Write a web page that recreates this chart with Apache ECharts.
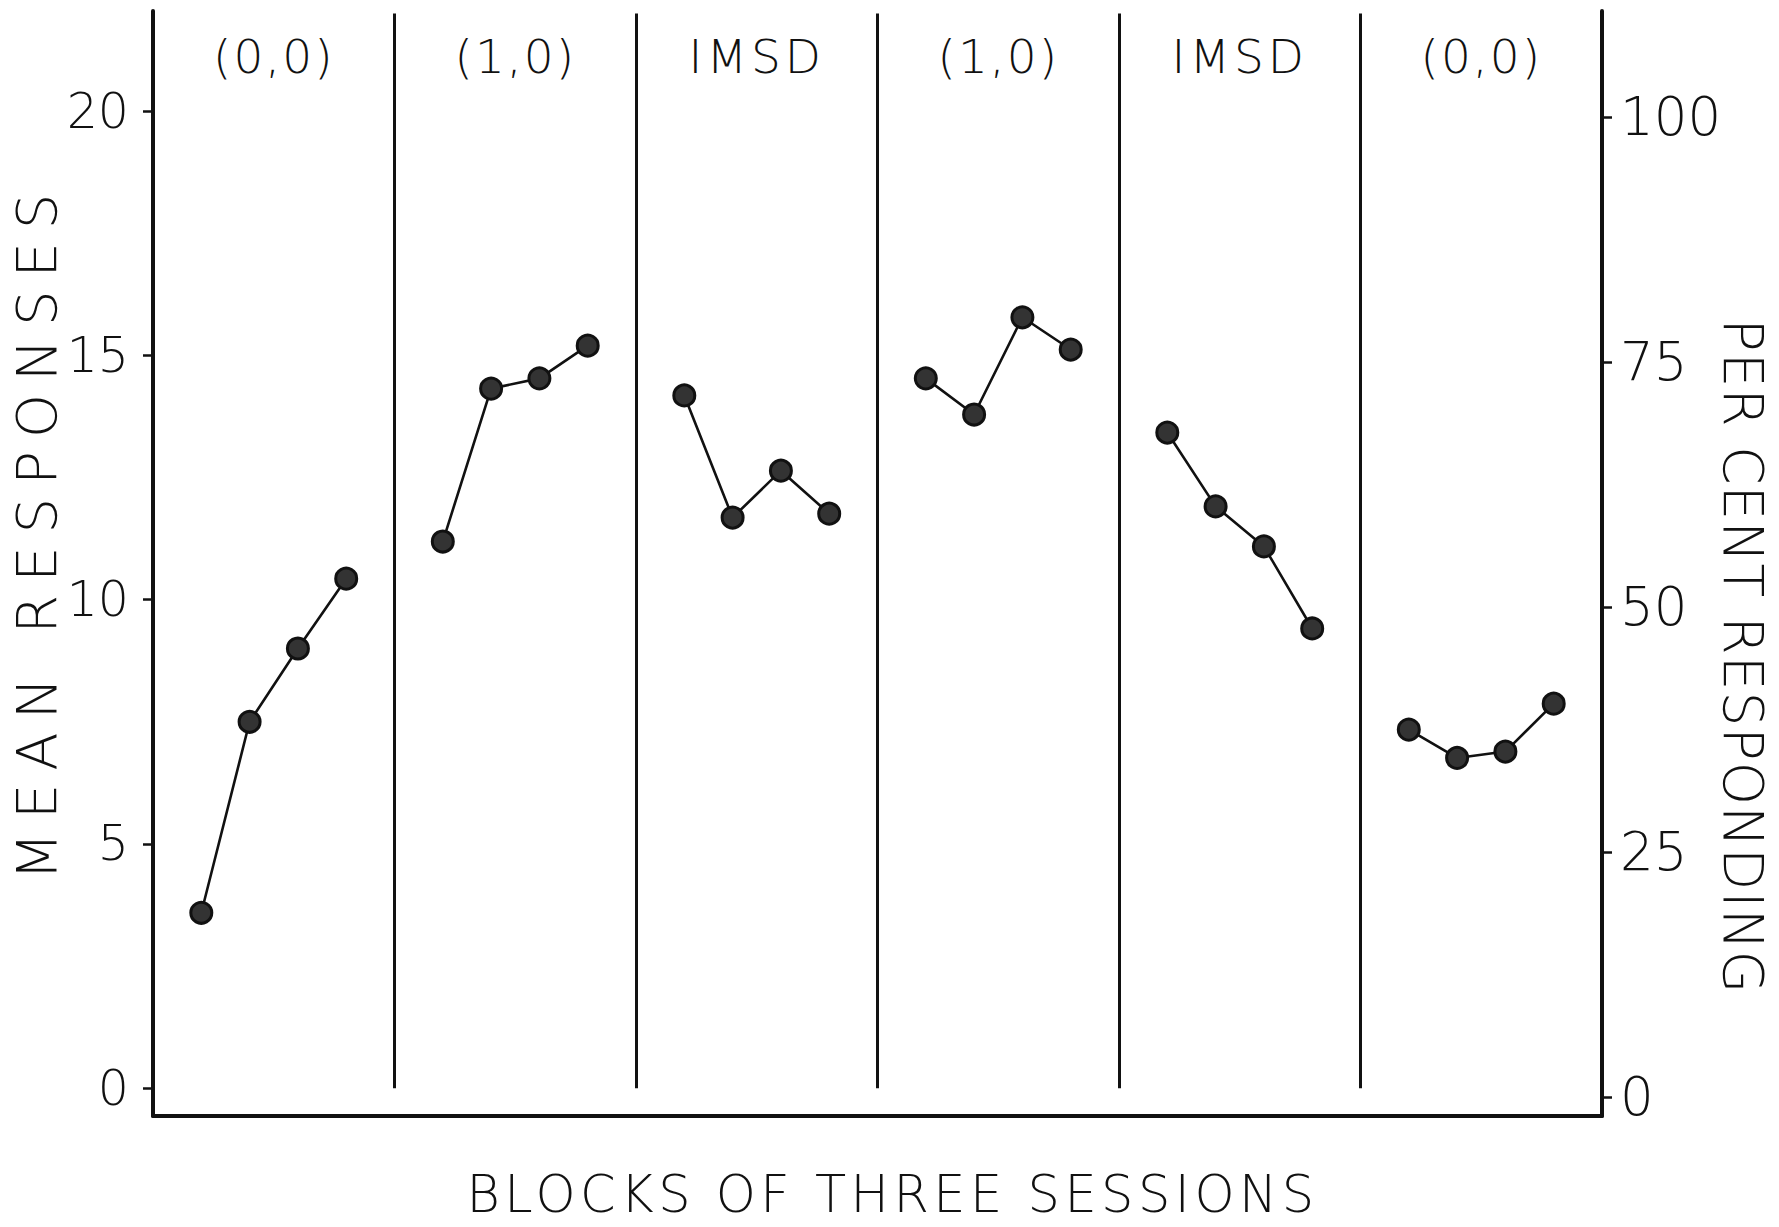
<!DOCTYPE html>
<html>
<head>
<meta charset="utf-8">
<title>Mean responses by blocks of three sessions</title>
<script src="https://cdn.jsdelivr.net/npm/echarts@6.0.0/dist/echarts.min.js"></script>
<style>
  html, body { margin: 0; padding: 0; background: #fff; }
  #main { width: 1779px; height: 1227px; }
</style>
</head>
<body>
<div id="main"></div>
<script>
// condition shown in each panel, left to right
var blockLabels = ['(0,0)', '(1,0)', 'IMSD', '(1,0)', 'IMSD', '(0,0)'];
// position of the four blocks inside a panel (panel is 5 units wide)
var blockPos = [1, 2, 3, 4];

// mean responses per block of three sessions, one array per panel
var panel1 = [3.59, 7.50, 9.00, 10.43];
var panel2 = [11.19, 14.32, 14.53, 15.20];
var panel3 = [14.18, 11.68, 12.64, 11.76];
var panel4 = [14.53, 13.79, 15.78, 15.12];
var panel5 = [13.42, 11.91, 11.09, 9.41];
var panel6 = [7.34, 6.76, 6.89, 7.87];
var panels = [panel1, panel2, panel3, panel4, panel5, panel6];

var leftTicks = [0, 5, 10, 15, 20];
var rightTicks = [0, 25, 50, 75, 100];
var dividers = [5, 10, 15, 20, 25];
var panelCenters = [2.5, 7.5, 12.5, 17.5, 22.5, 27.5];

var FONT = 'DejaVu Sans';
var INK = '#111';

var myChart = echarts.init(document.getElementById('main'), null, { renderer: 'svg' });

var series = panels.map(function (vals, i) {
    return {
        type: 'line',
        name: blockLabels[i],
        data: vals.map(function (v, j) { return [i * 5 + blockPos[j], v]; }),
        symbol: 'circle',
        symbolSize: 21,
        lineStyle: { color: INK, width: 2.6 },
        itemStyle: { color: '#333', borderColor: INK, borderWidth: 3 },
        z: 5,
        silent: true
    };
});

// panel dividers
series[0].markLine = {
    silent: true,
    symbol: 'none',
    label: { show: false },
    lineStyle: { color: INK, width: 3, type: 'solid' },
    data: dividers.map(function (x) {
        return [{ coord: [x, 0] }, { coord: [x, 22] }];
    })
};

var option = {
    animation: false,
    backgroundColor: '#fff',
    grid: {
        left: 153,
        right: 177,
        top: 11,
        bottom: 111,
        containLabel: false,
        outerBoundsMode: 'none'
    },
    xAxis: [
        {
            type: 'value',
            min: 0,
            max: 30,
            position: 'bottom',
            name: 'BLOCKS OF THREE SESSIONS',
            nameLocation: 'middle',
            nameGap: 53,
            nameMoveOverlap: false,
            nameTextStyle: { fontFamily: FONT, fontSize: 51, color: INK, fontWeight: 200, padding: [0, 0, 0, 30] },
            axisLine: { show: true, onZero: false, lineStyle: { color: INK, width: 4 } },
            axisTick: { show: false },
            axisLabel: { show: false },
            splitLine: { show: false }
        },
        {
            type: 'value',
            min: 0,
            max: 30,
            position: 'top',
            axisLine: { show: false },
            axisTick: { show: false },
            splitLine: { show: false },
            axisLabel: {
                show: true,
                inside: true,
                margin: 22,
                customValues: panelCenters,
                fontFamily: FONT,
                fontSize: 47,
                fontWeight: 200,
                color: INK,
                formatter: function (v) {
                    return blockLabels[Math.round((v - 2.5) / 5)];
                }
            }
        }
    ],
    yAxis: [
        {
            type: 'value',
            position: 'left',
            min: -0.57,
            max: 22.05,
            name: 'MEAN RESPONSES',
            nameLocation: 'middle',
            nameRotate: 90,
            nameGap: 89,
            nameMoveOverlap: false,
            nameTextStyle: { fontFamily: FONT, fontSize: 56, color: INK, fontWeight: 200, padding: [0, 0, 0, 66] },
            axisLine: { show: true, onZero: false, lineStyle: { color: INK, width: 4 } },
            axisTick: { show: true, length: 10, customValues: leftTicks, lineStyle: { color: INK, width: 2.5 } },
            axisLabel: { show: true, margin: 24, customValues: leftTicks, fontFamily: FONT, fontSize: 49, fontWeight: 200, color: INK },
            splitLine: { show: false }
        },
        {
            type: 'value',
            position: 'right',
            min: -1.94,
            max: 110.8,
            name: 'PER CENT RESPONDING',
            nameLocation: 'middle',
            nameRotate: -90,
            nameGap: 113,
            nameMoveOverlap: false,
            nameTextStyle: { fontFamily: FONT, fontSize: 55, color: INK, fontWeight: 200, padding: [0, 0, 0, 186] },
            axisLine: { show: true, onZero: false, lineStyle: { color: INK, width: 4 } },
            axisTick: { show: true, length: 10, customValues: rightTicks, lineStyle: { color: INK, width: 2.5 } },
            axisLabel: { show: true, margin: 18, customValues: rightTicks, fontFamily: FONT, fontSize: 53, fontWeight: 200, color: INK },
            splitLine: { show: false }
        }
    ],
    series: series
};

myChart.setOption(option);

// the original lettering is widely spaced
var spacing = {
    'MEAN RESPONSES': '13px',
    'PER CENT RESPONDING': '1px',
    'BLOCKS OF THREE SESSIONS': '4.5px',
    'IMSD': '4px',
    '(0,0)': '2px',
    '(1,0)': '2px'
};
function spreadText() {
    var texts = document.querySelectorAll('#main text');
    for (var i = 0; i < texts.length; i++) {
        var s = spacing[texts[i].textContent];
        if (s) texts[i].setAttribute('letter-spacing', s);
    }
}
spreadText();
myChart.on('finished', spreadText);
</script>
</body>
</html>
